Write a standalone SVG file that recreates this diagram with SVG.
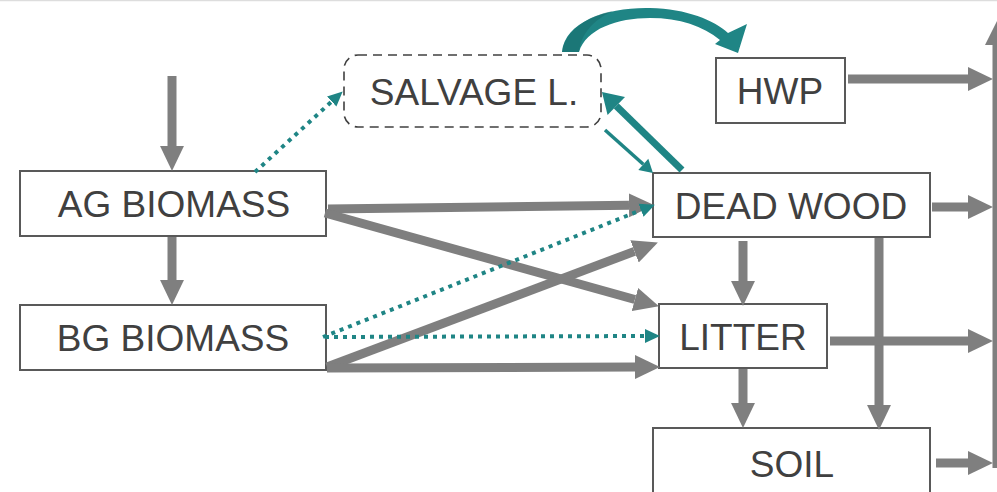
<svg xmlns="http://www.w3.org/2000/svg" width="997" height="492" viewBox="0 0 997 492">
  <defs>
    <marker id="head-gray" markerUnits="userSpaceOnUse" markerWidth="26" markerHeight="26" viewBox="0 -12 25 24" refX="0" refY="0" orient="auto">
      <path d="M0,-11.5 L24,0 L0,11.5 Z" fill="#7f7f7f"/>
    </marker>
    <marker id="head-teal-sm" markerUnits="userSpaceOnUse" markerWidth="16" markerHeight="16" viewBox="0 -7 15 14" refX="0" refY="0" orient="auto">
      <path d="M0,-6.5 L14,0 L0,6.5 Z" fill="#1f8585"/>
    </marker>
    <marker id="head-teal-lg" markerUnits="userSpaceOnUse" markerWidth="22" markerHeight="26" viewBox="0 -13 21 26" refX="0" refY="0" orient="auto">
      <path d="M0,-12.5 L20,0 L0,12.5 Z" fill="#1f8585"/>
    </marker>
    <marker id="head-teal-thin" markerUnits="userSpaceOnUse" markerWidth="15" markerHeight="16" viewBox="0 -8 14 16" refX="0" refY="0" orient="auto">
      <path d="M0,-7.5 L13,0 L0,7.5 Z" fill="#1f8585"/>
    </marker>
  </defs>
  <style>
    .box { fill: #ffffff; stroke: #595959; stroke-width: 2; }
    .dash { fill: #ffffff; stroke: #404040; stroke-width: 1.6; stroke-dasharray: 9 6; }
    .lbl { font-family: "Liberation Sans", Arial, sans-serif; font-size: 37px; fill: #404040; text-anchor: middle; }
    .flow { stroke: #7f7f7f; stroke-width: 9; fill: none; marker-end: url(#head-gray); }
    .dot { stroke: #1f8585; stroke-width: 4; stroke-dasharray: 4 5; fill: none; marker-end: url(#head-teal-sm); }
  </style>

  <rect width="997" height="492" fill="#ffffff"/>
  <line x1="0" y1="0.5" x2="997" y2="0.5" stroke="#dddddd" stroke-width="1.5"/>

  <!-- nodes -->
  <g id="ag-biomass">
    <rect class="box" x="20" y="171" width="306" height="65"/>
    <text class="lbl" x="174" y="217">AG BIOMASS</text>
  </g>
  <g id="bg-biomass">
    <rect class="box" x="20" y="305" width="306" height="65"/>
    <text class="lbl" x="173" y="351">BG BIOMASS</text>
  </g>
  <g id="salvage">
    <rect class="dash" x="344" y="55" width="257" height="72" rx="14" ry="14"/>
    <text class="lbl" x="474" y="105">SALVAGE L.</text>
  </g>
  <g id="hwp">
    <rect class="box" x="716" y="58" width="129" height="65"/>
    <text class="lbl" x="780" y="104">HWP</text>
  </g>
  <g id="dead-wood">
    <rect class="box" x="653" y="173" width="277" height="64"/>
    <text class="lbl" x="791" y="219">DEAD WOOD</text>
  </g>
  <g id="litter">
    <rect class="box" x="659" y="304" width="168" height="64"/>
    <text class="lbl" x="743" y="350">LITTER</text>
  </g>
  <g id="soil">
    <rect class="box" x="653" y="428" width="277" height="80"/>
    <text class="lbl" x="792" y="477">SOIL</text>
  </g>

  <!-- connectors -->
  <g id="connectors">
    <!-- carbon flows -->
    <line class="flow" x1="172" y1="76" x2="172" y2="146"/>
    <line class="flow" x1="172" y1="237" x2="172" y2="280"/>
    <line class="flow" x1="328" y1="209" x2="629" y2="205.3"/>
    <line class="flow" x1="325" y1="213" x2="634.9" y2="299.5"/>
    <line class="flow" x1="327" y1="367" x2="634.5" y2="251.4"/>
    <line class="flow" x1="327" y1="368" x2="635" y2="367"/>
    <line class="flow" x1="743" y1="241" x2="743" y2="281"/>
    <line class="flow" x1="743" y1="369" x2="743" y2="403"/>
    <line class="flow" x1="879" y1="238" x2="879" y2="405"/>

    <!-- outflows to the emission axis -->
    <line class="flow" x1="848" y1="79" x2="968" y2="79"/>
    <line class="flow" x1="932" y1="207" x2="968" y2="207"/>
    <line class="flow" x1="830" y1="341" x2="968" y2="341"/>
    <line class="flow" x1="936" y1="463" x2="968" y2="463"/>
    <line x1="997" y1="468" x2="997" y2="44" stroke="#7f7f7f" stroke-width="9"/>
    <path d="M985,45 L997,21 L1009,45 Z" fill="#7f7f7f"/>

    <!-- salvage logging flows -->
    <line class="dot" x1="255" y1="172" x2="331.7" y2="101.5"/>
    <line class="dot" x1="323" y1="337" x2="641" y2="210.2"/>
    <line class="dot" x1="325" y1="337" x2="645" y2="336"/>
    <line x1="682" y1="170" x2="616.3" y2="106" stroke="#1f8585" stroke-width="7" marker-end="url(#head-teal-lg)"/>
    <line x1="605" y1="130" x2="643.3" y2="164.3" stroke="#1f8585" stroke-width="3.5" marker-end="url(#head-teal-thin)"/>

    <!-- curved transfer from salvage to HWP -->
    <path d="M562,52 C565,21 608,7 650,8 C687,9 714,20 728,33 L747,24 L738,53 L715,44 L720,40 C703,26 680,18 650,18 C617,18 586,29 579,52 Z" fill="#1f8585"/>
    <path d="M562,52 C565,30 590,15 613,11 C593,20 581,34 579,52 Z" fill="#176b6b" opacity="0.55"/>
  </g>
</svg>
